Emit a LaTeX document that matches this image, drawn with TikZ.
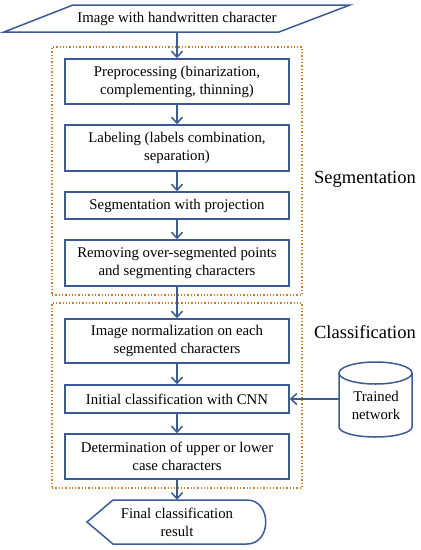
\documentclass[tikz,border=0pt]{standalone}
\usepackage{fontspec}
\setmainfont{Liberation Serif}
\usetikzlibrary{arrows.meta}
\definecolor{lineblue}{HTML}{3B5A96}
\definecolor{frameor}{HTML}{C5802E}
\begin{document}
\begin{tikzpicture}[x=1pt,y=-1pt,
  txt/.style={font=\fontsize{14.8}{18}\selectfont, align=center, inner sep=0pt, text=black},
  box/.style={txt, draw=lineblue, line width=1.5pt, fill=white, minimum width=224pt},
  frame/.style={draw=frameor, dotted, line width=1.3pt, minimum width=250pt, inner sep=0pt},
  arr/.style={draw=lineblue, line width=1.5pt, -{Straight Barb[length=6pt,width=11pt,line width=1.5pt]}},
  lbl/.style={font=\fontsize{18.5}{22}\selectfont, text=black, inner sep=0pt}
]
\useasboundingbox (0,0) rectangle (421,550);
% frames
\node[frame, minimum height=248pt] (seg) at (177,171) {};
\node[frame, minimum height=185pt] (cls) at (177,395.5) {};
\node[lbl] (seglbl) at (365,179) {Segmentation};
\node[lbl] (clslbl) at (365,332) {Classification};
% input parallelogram
\draw[lineblue, line width=1.5pt, fill=white] (4,32) -- (73,5) -- (350,5) -- (279,32) -- cycle;
\node[txt, minimum height=27pt] (in) at (177,18.5) {Image with handwritten character};
% process boxes
\node[box, minimum height=45pt] (b1) at (177,81.5) {Preprocessing (binarization,\\complementing, thinning)};
\node[box, minimum height=46pt] (b2) at (177,148) {Labeling (labels combination,\\separation)};
\node[box, minimum height=27pt] (b3) at (177,205.5) {Segmentation with projection};
\node[box, minimum height=46pt] (b4) at (177,263) {Removing over-segmented points\\and segmenting characters};
\node[box, minimum height=44pt] (b5) at (177,341) {Image normalization on each\\segmented characters};
\node[box, minimum height=28pt] (b6) at (177,399) {Initial classification with CNN};
\node[box, minimum height=45pt] (b7) at (177,456.5) {Determination of upper or lower\\case characters};
% database cylinder
\draw[lineblue, line width=1.5pt, fill=white] (339,373) -- (339,427) arc[start angle=180, end angle=0, x radius=36.5, y radius=10] -- (412,373);
\draw[lineblue, line width=1.5pt, fill=white] (375.5,373) ellipse [x radius=36.5, y radius=11];
\node[txt] (db) at (376,405.5) {Trained\\network};
\coordinate (cylL) at (339,399);
% display shape
\draw[lineblue, line width=1.5pt, fill=white] (87,522) -- (113,500) -- (247,500) .. controls (272,500) and (272,544) .. (247,544) -- (113,544) -- cycle;
\node[txt, minimum height=44pt] (fin) at (177,522) {Final classification\\result};
% arrows
\draw[arr] (in.south) -- (b1.north);
\draw[arr] (b1) -- (b2);
\draw[arr] (b2) -- (b3);
\draw[arr] (b3) -- (b4);
\draw[arr] (b4) -- (b5);
\draw[arr] (b5) -- (b6);
\draw[arr] (b6) -- (b7);
\draw[arr] (b7) -- (fin.north);
\draw[arr] (cylL) -- (b6.east);
\end{tikzpicture}
\end{document}
